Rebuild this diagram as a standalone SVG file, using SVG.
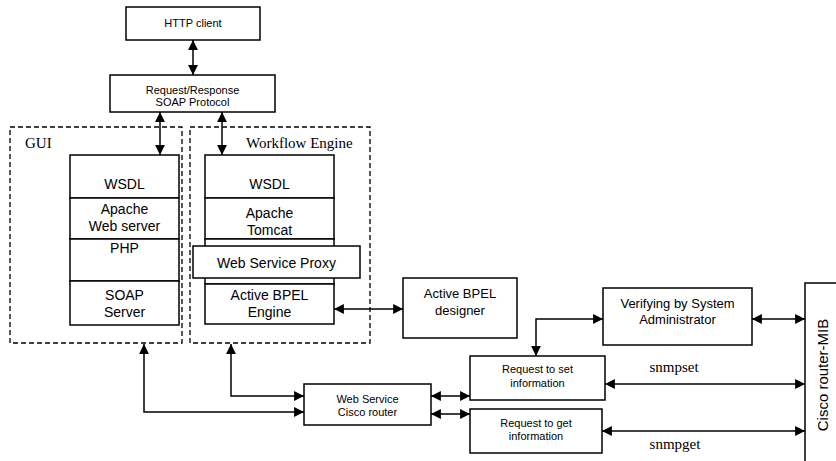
<svg xmlns="http://www.w3.org/2000/svg" width="836" height="461" viewBox="0 0 836 461">
<style>
.box{fill:#fff;stroke:#000;stroke-width:1.5}
.dash{fill:none;stroke:#000;stroke-width:1.3;stroke-dasharray:5,3}
.line{fill:none;stroke:#000;stroke-width:1.5;marker-start:url(#ah);marker-end:url(#ah)}
.s{font-family:"Liberation Sans",Arial,sans-serif;text-anchor:middle;fill:#000}
.t{font-family:"Liberation Serif","Times New Roman",serif;fill:#000}
</style>
<defs>
<marker id="ah" viewBox="0 0 10 10" refX="10" refY="5" markerWidth="6.6" markerHeight="6.6" orient="auto-start-reverse" markerUnits="strokeWidth">
<path d="M0,0 L10,5 L0,10 Z" fill="#000"/>
</marker>
</defs>

<g id="gui-container">
<rect class="dash" x="10" y="127" width="172" height="216"/>
<text class="t" x="25" y="148" font-size="15">GUI</text>
</g>
<g id="workflow-container">
<rect class="dash" x="190" y="127" width="180" height="216"/>
<text class="t" x="246" y="148" font-size="15">Workflow Engine</text>
</g>

<g id="http-client">
<rect class="box" x="126" y="7" width="134" height="33"/>
<text class="s" x="193" y="27" font-size="11">HTTP client</text>
</g>
<g id="soap-protocol">
<rect class="box" x="110" y="75" width="165" height="37"/>
<text class="s" x="192.5" y="94" font-size="11">Request/Response</text>
<text class="s" x="192.5" y="106" font-size="11">SOAP Protocol</text>
</g>

<g id="gui-wsdl">
<rect class="box" x="70" y="155" width="109" height="43"/>
<text class="s" x="124.5" y="189" font-size="14">WSDL</text>
</g>
<g id="gui-apache">
<rect class="box" x="70" y="198" width="109" height="41"/>
<text class="s" x="124.5" y="214" font-size="14">Apache</text>
<text class="s" x="124.5" y="231" font-size="14">Web server</text>
</g>
<g id="gui-php">
<rect class="box" x="70" y="239" width="109" height="42"/>
<text class="s" x="124.5" y="253" font-size="14">PHP</text>
</g>
<g id="gui-soap-server">
<rect class="box" x="70" y="281" width="109" height="44"/>
<text class="s" x="124.5" y="300" font-size="14">SOAP</text>
<text class="s" x="124.5" y="317" font-size="14">Server</text>
</g>

<g id="wf-wsdl">
<rect class="box" x="205" y="155" width="129" height="43"/>
<text class="s" x="269.5" y="189" font-size="14">WSDL</text>
</g>
<g id="wf-tomcat">
<rect class="box" x="205" y="198" width="129" height="41"/>
<text class="s" x="269.5" y="218" font-size="14">Apache</text>
<text class="s" x="269.5" y="235" font-size="14">Tomcat</text>
</g>
<g id="wf-gap">
<rect class="box" x="205" y="239" width="129" height="45"/>
</g>
<g id="wf-proxy">
<rect class="box" x="193" y="246" width="167" height="32"/>
<text class="s" x="276.5" y="268" font-size="14">Web Service Proxy</text>
</g>
<g id="wf-bpel-engine">
<rect class="box" x="205" y="284" width="129" height="40"/>
<text class="s" x="269.5" y="300" font-size="14">Active BPEL</text>
<text class="s" x="269.5" y="317" font-size="14">Engine</text>
</g>

<g id="bpel-designer">
<rect class="box" x="403" y="278" width="114" height="60"/>
<text class="s" x="460" y="298" font-size="13">Active BPEL</text>
<text class="s" x="460" y="315" font-size="13">designer</text>
</g>
<g id="verifying">
<rect class="box" x="603" y="288" width="149" height="57"/>
<text class="s" x="677.5" y="308" font-size="13">Verifying by System</text>
<text class="s" x="677.5" y="324" font-size="13">Administrator</text>
</g>
<g id="request-set">
<rect class="box" x="470" y="356" width="135" height="44"/>
<text class="s" x="537.5" y="373" font-size="11">Request to set</text>
<text class="s" x="537.5" y="387" font-size="11">information</text>
</g>
<g id="request-get">
<rect class="box" x="470" y="409" width="132" height="44"/>
<text class="s" x="536" y="427" font-size="11">Request to get</text>
<text class="s" x="536" y="440" font-size="11">information</text>
</g>
<g id="ws-cisco-router">
<rect class="box" x="304" y="384" width="127" height="41"/>
<text class="s" x="367.5" y="403" font-size="11">Web Service</text>
<text class="s" x="367.5" y="416" font-size="11">Cisco router</text>
</g>
<g id="cisco-mib">
<path d="M838,283 H805 V463" fill="#fff" stroke="#000" stroke-width="1.5"/>
<text class="s" font-size="15" transform="translate(828,375) rotate(-90)">Cisco router-MIB</text>
</g>

<g id="connectors">
<path class="line" d="M193,40 V75"/>
<path class="line" d="M160,112 V155"/>
<path class="line" d="M222,112 V155"/>
<path class="line" d="M334,309 H403"/>
<path class="line" d="M603,319 H536 V356"/>
<path class="line" d="M752,319 H805"/>
<path class="line" d="M605,384 H805"/>
<path class="line" d="M602,431 H805"/>
<path class="line" d="M431,396 H470"/>
<path class="line" d="M431,414 H470"/>
<path class="line" d="M231,344 V396 H304"/>
<path class="line" d="M144,344 V412 H304"/>
<text class="t" x="674" y="372" font-size="15" text-anchor="middle">snmpset</text>
<text class="t" x="675" y="449" font-size="15" text-anchor="middle">snmpget</text>
</g>
</svg>
